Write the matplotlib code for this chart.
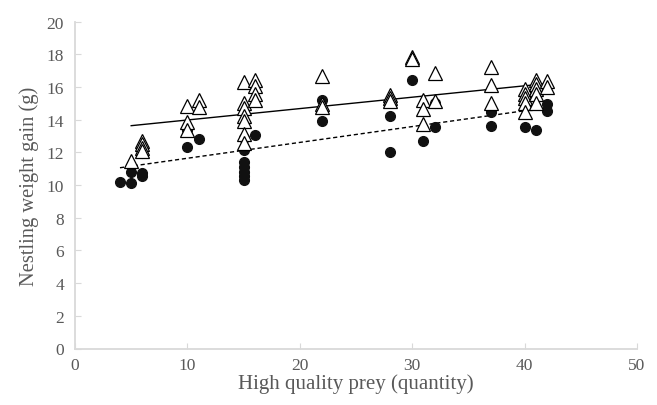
import numpy as np
import matplotlib
matplotlib.use("Agg")
import matplotlib.pyplot as plt

# Open triangles (series A)
tri_x = [5, 6, 6, 6, 6, 10, 10, 10, 11, 11,
         15, 15, 15, 15, 15, 15, 15, 16, 16, 16, 16,
         22, 22, 22, 28, 28, 28, 30, 30, 31, 31, 31, 32, 32,
         37, 37, 37, 40, 40, 40, 40, 40, 41, 41, 41, 41, 41, 42, 42]
tri_y = [11.45, 12.7, 12.5, 12.3, 12.1, 14.85, 13.85, 13.35, 15.2, 14.8,
         16.3, 15.0, 14.7, 14.2, 13.9, 13.1, 12.6, 16.45, 16.05, 15.6, 15.2,
         16.7, 14.95, 14.8, 15.5, 15.3, 15.15, 17.85, 17.7, 15.2, 14.65, 13.75, 16.85, 15.15,
         17.2, 16.15, 15.05, 15.9, 15.6, 15.3, 15.0, 14.45, 16.45, 16.2, 15.9, 15.6, 15.0, 16.4, 16.0]

# Filled circles (series B)
circ_x = [4, 5, 5, 6, 6, 6, 6, 10, 10, 11,
          15, 15, 15, 15, 15, 15, 15, 16,
          22, 22, 28, 28, 30, 31, 32, 32, 37, 37, 40, 41, 42, 42]
circ_y = [10.2, 10.8, 10.1, 12.15, 11.95, 10.75, 10.55, 13.4, 12.35, 12.85,
          12.9, 12.15, 11.4, 11.1, 10.8, 10.55, 10.3, 13.05,
          15.2, 13.9, 14.2, 12.0, 16.45, 12.7, 15.05, 13.55, 14.5, 13.6, 13.55, 13.4, 14.95, 14.55]

x_ticks = [0, 10, 20, 30, 40, 50]
y_ticks = [0, 2, 4, 6, 8, 10, 12, 14, 16, 18, 20]

plt.rcParams['font.family'] = ['Liberation Serif', 'DejaVu Serif']
gray = '#595959'
axis_gray = '#d9d9d9'

fig = plt.figure(figsize=(6.57, 4.06), dpi=100)
ax = fig.add_axes([75/657, 1-349.5/406, 562/657, (349.5-22.7)/406])

tx = np.array(tri_x, float); ty = np.array(tri_y, float)
cx = np.array(circ_x, float); cy = np.array(circ_y, float)

# linear trendlines (least squares)
pa = np.polyfit(tx, ty, 1)
pb = np.polyfit(cx, cy, 1)
xa = np.array([tx.min(), tx.max()])
xb = np.array([cx.min(), cx.max()])
ax.plot(xa, np.polyval(pa, xa), color='black', lw=1.0, zorder=2)
ax.plot(xb, np.polyval(pb, xb), color='black', lw=1.0, ls=(0, (3, 2)), zorder=2)

ax.plot(cx, cy, ls='none', marker='o', ms=7, mfc='#111111', mec='#111111', zorder=3)
ax.plot(tx, ty, ls='none', marker='^', ms=10, mfc='white', mec='black', mew=0.9, zorder=4)

ax.set_xlim(0, 50)
ax.set_ylim(0, 20)
ax.set_xticks(x_ticks)
ax.set_yticks(y_ticks)
for s in ['top', 'right']:
    ax.spines[s].set_visible(False)
for s in ['left', 'bottom']:
    ax.spines[s].set_color(axis_gray)
    ax.spines[s].set_linewidth(1.3)
ax.tick_params(axis='both', direction='in', length=4, color=axis_gray, labelcolor=gray, labelsize=12.5)
ax.tick_params(axis='y', pad=8)
ax.tick_params(axis='x', pad=6)
ax.set_xlabel('High quality prey (quantity)', color=gray, fontsize=15, labelpad=0)
ax.set_ylabel('Nestling weight gain (g)', color=gray, fontsize=14.8, labelpad=5)

fig.savefig('out.png', dpi=100)
